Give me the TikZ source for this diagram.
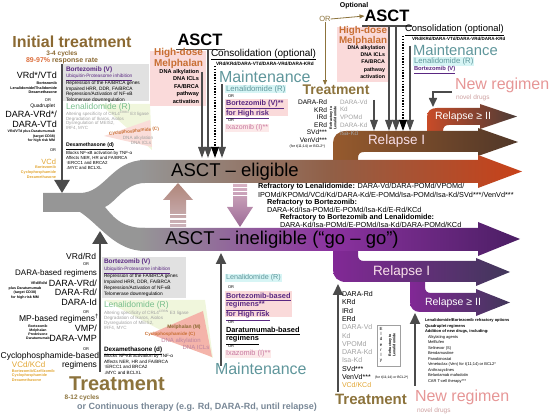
\documentclass[tikz,border=0pt]{standalone}
\usepackage{fontspec}
\setmainfont{Liberation Sans}
\usetikzlibrary{arrows.meta}

\definecolor{itbrown}{RGB}{139,105,50}
\definecolor{olivetr}{RGB}{140,115,60}
\definecolor{resporange}{RGB}{220,110,60}
\definecolor{bzpurple}{RGB}{90,40,130}
\definecolor{lenagreen}{RGB}{120,190,140}
\definecolor{mainteal}{RGB}{95,150,155}
\definecolor{ixapink}{RGB}{200,120,160}
\definecolor{melorange}{RGB}{200,110,50}
\definecolor{newpink}{RGB}{230,150,150}
\definecolor{novelgray}{RGB}{205,160,160}
\definecolor{vcdorange}{RGB}{225,165,50}
\definecolor{graylist}{RGB}{160,160,160}
\definecolor{contblue}{RGB}{120,135,150}
\definecolor{boxgray}{RGB}{225,225,225}
\definecolor{pinkbg}{RGB}{250,218,218}
\definecolor{cyanbg}{RGB}{215,245,245}
\definecolor{lenabg}{RGB}{240,246,220}
\definecolor{melpink}{RGB}{244,180,170}
\definecolor{arrowgray}{RGB}{75,75,75}
\definecolor{stemgray}{RGB}{150,150,150}
\definecolor{eligbrown}{RGB}{145,95,70}
\definecolor{eligred}{RGB}{200,65,25}
\definecolor{inelpurple}{RGB}{140,50,160}
\definecolor{ineldark}{RGB}{75,30,100}
\definecolor{relIbrown}{RGB}{150,90,45}
\definecolor{relIdark}{RGB}{80,55,40}
\definecolor{relIIred}{RGB}{200,75,40}
\definecolor{relIIdark}{RGB}{75,60,55}
\definecolor{rellowpur}{RGB}{130,40,150}
\definecolor{rellowdark}{RGB}{65,55,90}
\definecolor{relapsetext}{RGB}{250,225,235}
\definecolor{upTop}{RGB}{176,135,122}
\definecolor{upBot}{RGB}{205,180,188}
\definecolor{dnTop}{RGB}{215,178,195}
\definecolor{dnBot}{RGB}{155,105,150}

\newcommand{\fsz}[1]{\fontsize{#1}{\fpeval{1.2*#1}}\selectfont}
\newcommand{\fsl}[2]{\fontsize{#1}{#2}\selectfont}

\begin{document}
\begin{tikzpicture}[x=1pt, y=-1pt,
    txt/.style={inner sep=0pt, outer sep=0pt},
    thickarr/.style={draw=arrowgray, line width=2.6pt, -{Triangle[width=15pt,length=13pt]}},
    midarr/.style={draw=arrowgray, line width=2pt, -{Triangle[width=10pt,length=11pt]}},
    smallarr/.style={draw=arrowgray, line width=1.5pt, -{Triangle[width=7.5pt,length=11pt]}},
    dotarr/.style={draw=black, line width=1.4pt, dash pattern=on 1.4pt off 1.4pt, -{Triangle[width=7.5pt,length=11pt]}},
    olivearr/.style={draw=olivetr, line width=0.8pt, -{Triangle[width=4pt,length=5pt]}},
  ]
\useasboundingbox (0,0) rectangle (550,414);

% Stem and main bands
\fill[stemgray] (43,193) -- (80,193) .. controls (105,193) and (112,160) .. (145,160)
  -- (145,183) .. controls (125,183) and (115,203) .. (105,207)
  .. controls (112,215) and (120,228) .. (145,228)
  -- (145,251) .. controls (115,251) and (100,225) .. (80,212) -- (43,212) -- cycle;
% upper relapses
\shade[left color=relIIred, right color=relIIdark] (427,140) -- (427,117) .. controls (427,111) and (431,108) .. (437,108)
  -- (480,108) -- (480,104) -- (517,116.5) -- (480,129) -- (480,125) -- (449,125)
  .. controls (445,125) and (443,127) .. (443,131) -- (443,140) -- cycle;
\shade[left color=relIbrown, right color=relIdark] (333,172) -- (333,143) .. controls (333,136) and (338,131) .. (346,131)
  -- (478,131) -- (478,128) -- (518,142) -- (478,156) -- (478,152) -- (364,152)
  .. controls (360,152) and (358,154) .. (358,158) -- (358,172) -- cycle;
% lower relapses
\shade[left color=rellowpur, right color=rellowdark] (410,272) -- (410,302) .. controls (410,308) and (414,312) .. (420,312)
  -- (476,312) -- (476,316) -- (510,302.5) -- (476,289) -- (476,293) -- (431,293)
  .. controls (427,293) and (425,291) .. (425,287) -- (425,272) -- cycle;
\shade[left color=rellowpur, right color=rellowdark] (333,240) -- (333,270) .. controls (333,277) and (338,282) .. (346,282)
  -- (476,282) -- (476,286) -- (510,272) -- (476,258) -- (476,261) -- (364,261)
  .. controls (360,261) and (358,259) .. (358,255) -- (358,240) -- cycle;
% eligible / ineligible
\shade[left color=stemgray, right color=eligred, middle color=eligbrown]
  (140,160) -- (478,160) -- (478,155) -- (522,171.5) -- (478,188) -- (478,183) -- (140,183) -- cycle;
\shade[left color=stemgray, right color=ineldark, middle color=inelpurple]
  (140,228) -- (478,228) -- (478,222) -- (520,239) -- (478,256) -- (478,251) -- (140,251) -- cycle;

% Switch arrows between the bands
\shade[top color=upTop, bottom color=upBot] (170,227) -- (170,200) -- (163,200) -- (178,183) -- (193,200) -- (186,200) -- (186,227) -- cycle;
\shade[top color=dnTop, bottom color=dnBot] (233,184) -- (233,207) -- (227,207) -- (240,227) -- (253,207) -- (247,207) -- (247,184) -- cycle;
\foreach \s in {214,218.5,223}
  \fill[white] (169,\s) rectangle (187,\s+1.4);
\foreach \s in {187,191,195}
  \fill[white] (232,\s) rectangle (248,\s+1.4);

% Band labels
\node[txt, font=\fsz{18.5}] (elig) at (235,171.5) {ASCT – eligible};
\node[txt, font=\fsz{18.5}] (inelig) at (282,239.5) {ASCT – ineligible (“go – go”)};
\node[txt, anchor=west, text=relapsetext, font=\fsz{13.5}] (relIup) at (368,141.5) {Relapse I};
\node[txt, anchor=west, text=white, font=\fsz{10.5}] (relIIup) at (435,116.5) {Relapse ≥ II};
\node[txt, anchor=west, text=relapsetext, font=\fsz{13.5}] (relIlow) at (373,272) {Relapse I};
\node[txt, anchor=west, text=white, font=\fsz{10.5}] (relIIlow) at (425,302.5) {Relapse ≥ II};

% Refractory options
\node[txt, anchor=west, font=\fsz{7.3}] (refL1) at (258,186.5) {\textbf{Refractory to Lenalidomide:} DARA-Vd/DARA-POMd/VPOMd/};
\node[txt, anchor=west, font=\fsz{7.3}] (refL2) at (258,194.5) {IPOMd/KPOMd/VCd/Kd/DARA-Kd/E-POMd/Isa-POMd/Isa-Kd/SVd***/VenVd***};
\node[txt, anchor=west, font=\bfseries\fsz{7.3}] (refB1) at (267,202.5) {Refractory to Bortezomib:};
\node[txt, anchor=west, font=\fsz{7.3}] (refB2) at (267,210) {DARA-Kd/Isa-POMd/E-POMd/Isa-Kd/E-Rd/KCd};
\node[txt, anchor=west, font=\bfseries\fsz{7.3}] (refBL1) at (280,217.5) {Refractory to Bortezomib and Lenalidomide:};
\node[txt, anchor=west, font=\fsz{7.3}] (refBL2) at (280,224.5) {DARA-Kd/Isa-POMd/E-POMd/Isa-Kd/DARA-POMd/KCd};

% Initial treatment (top left)
\node[txt, text=itbrown, font=\bfseries\fsz{16}] (inittr) at (72,42) {Initial treatment};
\node[txt, text=itbrown, font=\bfseries\fsz{6.5}] (cycA) at (62,53.5) {3-4 cycles};
\node[txt, font=\bfseries\fsz{7}] (respA) at (62,61) {\textcolor{resporange}{89-97\%} \textcolor{itbrown}{response rate}};
\node[txt, anchor=east, font=\fsz{9}] (vrdA) at (57,75) {VRd*/VTd};
\node[txt, anchor=north east, align=right, font=\bfseries\fsl{3.7}{4.9}] (vrdAsub) at (57,81.5) {Bortezomib\\Lenalidomide/Thalidomide\\Dexamethasone};
\node[txt, font=\fsz{4}] (orA1) at (48,100) {OR};
\node[txt, anchor=east, font=\fsz{5}] (quadA) at (55,106) {Quadruplet};
\node[txt, anchor=north east, align=right, font=\fsl{9}{10}] (daraA) at (57,111) {DARA-VRd*/\\DARA-VTd};
\node[txt, anchor=north east, align=right, font=\bfseries\fsl{3.5}{4.7}] (daraAsub) at (55,130) {VRd/VTd plus Daratumumab\\(target CD38)\\for high risk MM};
\node[txt, font=\fsz{4}] (orA2) at (53,150) {OR};
\node[txt, anchor=east, text=vcdorange, font=\fsz{7.5}] (vcdA) at (56,162) {VCd};
\node[txt, anchor=north east, align=right, text=vcdorange, font=\bfseries\fsl{3.8}{5}] (vcdAsub) at (56,166) {Bortezomib\\Cyclophosphamide\\Dexamethasone};
\coordinate (lineA) at (62,64);
\coordinate (stemA) at (62,193);
\draw[thickarr] (lineA) -- (stemA);

% Mechanisms (top)
\fill[boxgray] (63,64) rectangle (149,101);
\fill[lenabg] (100,104) -- (150,104) -- (152,150) -- cycle;
\fill[melpink!45] (104,136) -- (150,120) -- (152,147) -- cycle;
\node[txt, anchor=west, text=bzpurple, font=\bfseries\fsz{6.5}] (bzA) at (66,70) {Bortezomib (V)};
\node[txt, anchor=north west, align=left, font=\fsl{4.8}{5.4}] (bzAtxt) at (66,74) {\textcolor{bzpurple}{\underline{Ubiquitin-Proteasome inhibition}}\\Repression of the FA/BRCA genes\\Impaired HRR, DDR, FA/BRCA\\Repression/Activation of NF-κB\\Telomerase downregulation};
\node[txt, anchor=west, text=lenagreen, font=\fsz{8.5}] (lenA) at (66,107) {Lenalidomide (R)};
\node[txt, anchor=north west, align=left, text=graylist, font=\fsl{4.5}{4.8}] (lenAtxt) at (66,111) {Altering specificity of CRL4\textsuperscript{CRBN} E3 ligase\\Degradation of Ikaros, Aiolos\\Dysregulation of MEIS2,\\IRF4, MYC};
\node[txt, rotate=6, text=melorange, font=\bfseries\fsz{4.6}] (cycloA) at (134,131.5) {Cyclophosphamide (C)};
\node[txt, text=graylist, font=\fsz{4.6}] (dnaA1) at (138,138.3) {DNA alkylation};
\node[txt, text=graylist, font=\fsz{4.6}] (dnaA2) at (141,143.3) {DNA ICLs};
\node[txt, anchor=west, font=\bfseries\fsz{5.2}] (dexA) at (66,146.5) {\underline{Dexamethasone (d)}};
\node[txt, anchor=north west, align=left, font=\fsl{4.4}{5}] (dexAtxt) at (66,151.2) {Blocks NF-κB activation by TNF-α\\Affects NER, HR and FA/BRCA\\↑ERCC1 and BRCA2\\↓MYC and BCLXL};

% ASCT (top middle)
\node[txt, font=\bfseries\fsz{16.5}] (asctA) at (200,40) {ASCT};
\draw[line width=1.2pt, arrowgray] (176,49.5) -- (225,49.5);
\fill[pinkbg] (150,51) rectangle (206,106);
\node[txt, anchor=north east, align=right, text=melorange, font=\bfseries\fsl{10}{10.5}] (melA) at (203,48.5) {High-dose\\Melphalan};
\node[txt, anchor=north east, align=right, font=\bfseries\fsl{5.6}{7.5}] (melAtxt) at (199,69) {DNA alkylation\\DNA ICLs\\FA/BRCA\\pathway\\activation};
\node[txt, anchor=west, font=\fsz{10}] (consA) at (211,54.5) {\underline{Consolidation (optional)}};
\node[txt, anchor=west, font=\bfseries\fsz{4.7}] (consAtxt) at (216,63.5) {VRd/KRd/DARA-VTd/DARA-VRd/DARA-KRd};
\node[txt, anchor=west, text=mainteal, font=\fsz{16}] (maintA) at (219,76.5) {Maintenance};
\node[txt, anchor=west, fill=cyanbg, inner sep=0.8pt, text=mainteal, font=\fsz{7.8}] (lenmA) at (225.2,89) {Lenalidomide (R)};
\node[txt, anchor=west, font=\fsz{4}] (orM1) at (228,96.5) {OR};
\fill[pinkbg] (225,99) rectangle (288,116);
\node[txt, anchor=north west, align=left, text=bzpurple, font=\bfseries\fsl{7.3}{8.5}] (bzmA) at (226,100) {\underline{Bortezomib (V)**}\\\underline{for High risk}};
\node[txt, anchor=west, font=\fsz{4}] (orM2) at (228,120) {OR};
\node[txt, anchor=west, fill=pinkbg!60, inner sep=0.8pt, text=ixapink, font=\fsz{7}] (ixaA) at (225.2,128) {Ixazomib (I)**};
\foreach \n/\x/\y in {1/202/72, 2/208/50, 4/222/84}
  \draw[smallarr] (\x,\y) coordinate (asctA\n) -- (\x,158) coordinate (eligA\n);
\coordinate (consAtop) at (215,66);
\coordinate (consAend) at (215,158);
\draw[dotarr] (consAtop) -- (consAend);

% Optional ASCT at relapse (top right)
\node[txt, font=\bfseries\fsz{7}] (optB) at (354,6) {Optional};
\node[txt, text=olivetr, font=\fsz{7.5}] (orB) at (325,19) {OR};
\node[txt, font=\bfseries\fsz{16.5}] (asctB) at (387,16) {ASCT};
\draw[line width=1.2pt, arrowgray] (362,26) -- (412,26);
\node[txt, text=olivetr, font=\bfseries\fsz{14}] (treatB) at (336,90) {Treatment};
\draw[olivearr] (orB.east) -- (asctB.west);
\draw[olivearr] (orB.south) -- (orB.south |- treatB.north);
\fill[pinkbg] (337,27) rectangle (389,82);
\node[txt, anchor=north east, align=right, text=melorange, font=\bfseries\fsl{9.8}{10}] (melB) at (387,26.5) {High-dose\\Melphalan};
\node[txt, anchor=north east, align=right, font=\bfseries\fsl{5.3}{7.3}] (melBtxt) at (385,45.5) {DNA alkylation\\DNA ICLs\\FA/BRCA\\pathway\\activation};
\node[txt, anchor=west, font=\fsz{9.4}] (consB) at (405,30) {\underline{Consolidation (optional)}};
\node[txt, anchor=west, font=\bfseries\fsz{4.5}] (consBtxt) at (412,39) {VRd/KRd/DARA-VTd/DARA-VRd/DARA-KRd};
\node[txt, anchor=west, text=mainteal, font=\fsz{14.8}] (maintB) at (413,50) {Maintenance};
\node[txt, anchor=west, fill=cyanbg, inner sep=0.8pt, text=mainteal, font=\fsz{7.8}] (lenmB) at (413.2,61.5) {Lenalidomide (R)};
\node[txt, anchor=west, text=bzpurple, font=\bfseries\fsz{5.8}] (bzmB) at (414,70.5) {\underline{Bortezomib (V)}};
\node[txt, anchor=west, text=newpink, font=\fsz{16}] (newB) at (455,85) {New regimen};
\node[txt, anchor=west, text=novelgray, font=\fsz{6.5}] (novB) at (456,98) {novel drugs};
\coordinate (newBin) at (452,92);
\coordinate (relIIin) at (433,107);
\draw[draw=arrowgray, line width=1.6pt, -{Triangle[width=8pt,length=9pt]}] (newBin) -| (relIIin);
\node[txt, anchor=north east, align=right, font=\fsl{6.6}{7.5}] (listB) at (327,100) {DARA-Rd\\KRd\\IRd\\ERd\\SVd***\\VenVd***};
\node[txt, anchor=east, font=\fsz{3.6}] (venB) at (325,146.5) {(for t(11;14) or BCL2*)};
\node[txt, rotate=90, align=center, font=\bfseries\fsl{3.6}{4.3}] (refrB) at (333,118) {Refractory to\\Lenalidomide};
\node[txt, anchor=north west, align=left, text=graylist, font=\fsl{6.3}{7.8}] (grayB) at (340,99.5) {DARA-Vd\\Kd\\VPOMd\\DARA-Kd\\Isa-Kd};
\foreach \n/\x/\y in {1/389/27, 2/396/27, 4/410/46, 5/374/100}
  \draw[smallarr] (\x,\y) coordinate (asctB\n) -- (\x,131) coordinate (relB\n);
\coordinate (consBtop) at (403,36);
\coordinate (consBend) at (403,131);
\draw[dotarr] (consBtop) -- (consBend);

% Initial treatment (bottom left)
\coordinate (lineC) at (100,372);
\coordinate (stemC) at (100,231);
\draw[thickarr] (lineC) -- (stemC);
\node[txt, anchor=east, font=\fsz{8.5}] (vrdC) at (96,256) {VRd/Rd};
\node[txt, font=\fsz{4}] (orC1) at (86,264.5) {OR};
\node[txt, anchor=east, font=\fsz{8}] (daraC) at (97,273.5) {DARA-based regimens};
\node[txt, anchor=east, font=\bfseries\fsz{3.6}] (daraCsub1) at (47,283) {VRd/Rd/d};
\node[txt, align=center, font=\bfseries\fsl{3.6}{4.8}] (daraCsub2) at (25,293) {plus Daratumumab\\(target CD38)\\for high risk MM};
\node[txt, anchor=north east, align=right, font=\fsl{9}{9.6}] (daraClist) at (97,279.5) {DARA-VRd/\\DARA-Rd/\\DARA-Id};
\node[txt, font=\fsz{4}] (orC2) at (86,312) {OR};
\node[txt, anchor=east, font=\fsz{8.5}] (mpC) at (99,319) {MP-based regimens\textsuperscript{†}};
\node[txt, align=center, font=\bfseries\fsl{3.5}{4.1}] (mpCsub) at (38,332) {Bortezomib\\Melphalan\\Prednisone\\Daratumumab};
\node[txt, anchor=north east, align=right, font=\fsl{9}{10}] (mpClist) at (97,324.5) {VMP/\\DARA-VMP};
\node[txt, font=\fsz{4}] (orC3) at (86,349) {OR};
\node[txt, anchor=east, font=\fsz{8.5}] (cycC) at (99,356) {Cyclophosphamide-based};
\node[txt, anchor=east, font=\fsz{8.5}] (cycC2) at (97,365) {regimens};
\node[txt, anchor=west, text=vcdorange, font=\fsz{8}] (vcdC) at (12,365) {VCd/KCd};
\node[txt, anchor=north west, align=left, text=vcdorange, font=\bfseries\fsl{3.8}{4.2}] (vcdCsub) at (12,370) {Bortezomib/Carfilzomib\\Cyclophosphamide\\Dexamethasone};
\node[txt, text=olivetr, font=\bfseries\fsz{20}] (treatC) at (117,384) {Treatment};
\node[txt, text=olivetr, font=\bfseries\fsz{6.5}] (cycC3) at (82,398) {8-12 cycles};
\node[txt, text=contblue, font=\bfseries\fsz{9}] (contC) at (197,407.5) {or Continuous therapy (e.g. Rd, DARA-Rd, until relapse)};

% Mechanisms (bottom)
\fill[boxgray] (102,257) rectangle (186,298);
\fill[lenabg] (104,300) -- (205,300) -- (213,358) -- cycle;
\fill[melpink] (150,334) -- (203,311) -- (212,357) -- cycle;
\node[txt, anchor=west, text=bzpurple, font=\bfseries\fsz{6.5}] (bzC) at (104,262) {Bortezomib (V)};
\node[txt, anchor=north west, align=left, font=\fsl{4.8}{5.8}] (bzCtxt) at (104,267) {\textcolor{bzpurple}{\underline{Ubiquitin-Proteasome inhibition}}\\Repression of the FA/BRCA genes\\Impaired HRR, DDR, FA/BRCA\\Repression/Activation of NF-κB\\Telomerase downregulation};
\node[txt, anchor=west, text=lenagreen, font=\fsz{8.5}] (lenC) at (104,305) {Lenalidomide (R)};
\node[txt, anchor=north west, align=left, text=graylist, font=\fsl{4.6}{5}] (lenCtxt) at (104,310.5) {Altering specificity of CRL4\textsuperscript{CRBN} E3 ligase\\Degradation of Ikaros, Aiolos\\Dysregulation of MEIS2,\\IRF4, MYC};
\node[txt, text=itbrown, font=\bfseries\fsz{5}] (melC) at (184,327) {Melphalan (M)};
\node[txt, text=melorange, font=\bfseries\fsz{4.6}] (cycloC) at (170,334) {Cyclophosphamide (C)};
\node[txt, text=ixapink!70!graylist, font=\fsz{6}] (dnaC1) at (181,341) {DNA alkylation};
\node[txt, text=ixapink!70!graylist, font=\fsz{6}] (dnaC2) at (196,347.5) {DNA ICLs};
\node[txt, anchor=west, font=\bfseries\fsz{6.3}] (dexC) at (104,350.5) {\underline{Dexamethasone (d)}};
\node[txt, anchor=north west, align=left, font=\fsl{4.6}{5.4}] (dexCtxt) at (104,354.5) {Blocks NF-κB activation by TNF-α\\Affects NER, HR and FA/BRCA\\↑ERCC1 and BRCA2\\↓MYC and BCLXL};

% Maintenance (bottom middle)
\coordinate (maintCin) at (221,366);
\coordinate (inelC) at (221,253);
\draw[midarr] (maintCin) -- (inelC);
\node[txt, anchor=west, fill=cyanbg, inner sep=0.8pt, text=mainteal, font=\fsz{7.2}] (lenmC) at (225.2,278) {Lenalidomide (R)};
\node[txt, anchor=west, font=\fsz{4}] (orD1) at (228,287) {OR};
\fill[pinkbg] (225,291) rectangle (292,317);
\node[txt, anchor=north west, align=left, text=bzpurple, font=\bfseries\fsl{7.4}{8.5}] (bzmC) at (226,293) {\underline{Bortezomib-based}\\\underline{regimens**}\\\underline{for High risk}};
\node[txt, anchor=west, font=\fsz{4}] (orD2) at (228,322) {OR};
\node[txt, anchor=north west, align=left, font=\bfseries\fsl{7.4}{8.5}] (daramC) at (226,327) {\underline{Daratumumab-based}\\\underline{regimens}};
\node[txt, anchor=west, font=\fsz{4}] (orD3) at (228,346.5) {OR};
\node[txt, anchor=west, fill=pinkbg!60, inner sep=0.8pt, text=ixapink, font=\fsz{7.4}] (ixaC) at (225.2,354) {Ixazomib (I)**};
\node[txt, anchor=west, text=mainteal, font=\fsz{16}] (maintC) at (215,369) {Maintenance};

% Treatment at relapse (bottom right)
\coordinate (treatDin) at (338,392);
\coordinate (relIlowin) at (338,284);
\draw[midarr] (treatDin) -- (relIlowin);
\coordinate (newDin) at (415,386);
\coordinate (relIIlowin) at (415,313);
\draw[midarr] (newDin) -- (relIIlowin);
\node[txt, anchor=north west, align=left, font=\fsl{7}{8.3}] (listD) at (342,291.5) {DARA-Rd\\KRd\\IRd\\ERd\\\textcolor{graylist}{DARA-Vd}\\\textcolor{graylist}{Kd}\\\textcolor{graylist}{VPOMd}\\\textcolor{graylist}{DARA-Kd}\\\textcolor{graylist}{Isa-Kd}\\SVd***\\VenVd***\\\textcolor{vcdorange}{VCd/KCd}};
\node[txt, anchor=west, font=\fsz{3.4}] (venD) at (375,377.5) {(for t(11;14) or BCL2*)};
\draw[graylist, line width=0.4pt] (377,325) rectangle (400,366);
\node[txt, align=center, font=\fsl{4.4}{5.3}] (elderD) at (381,345) {E\\l\\d\\e\\r\\l\\y};
\node[txt, rotate=90, align=center, font=\bfseries\fsl{3.6}{4.3}] (refrD) at (392,345) {Refractory to\\Lenalidomide};
\node[txt, anchor=north west, align=left, font=\fsl{4}{5.5}] (optD) at (425,319) {\textbf{Lenalidomide/Bortezomib refractory options}\\\textbf{Quadruplet regimens}\\\textbf{Addition of new drugs, including:}\\\hspace{3pt}Alkylating agents\\\hspace{3pt}Melflufen\\\hspace{3pt}Selinexor (S)\\\hspace{3pt}Bendamustine\\\hspace{3pt}Panobinostat\\\hspace{3pt}Venetoclax (Ven) for t(11;14) or BCL2*\\\hspace{3pt}Anthracyclines\\\hspace{3pt}Belantamab mafodotin\\\hspace{3pt}CAR T-cell therapy***};
\node[txt, text=olivetr, font=\bfseries\fsz{15}] (treatD) at (371,399) {Treatment};
\node[txt, anchor=west, text=newpink, font=\fsz{16}] (newD) at (415,397) {New regimen};
\node[txt, anchor=west, text=novelgray, font=\fsz{6.5}] (novD) at (417,411) {novel drugs};
\end{tikzpicture}
\end{document}
